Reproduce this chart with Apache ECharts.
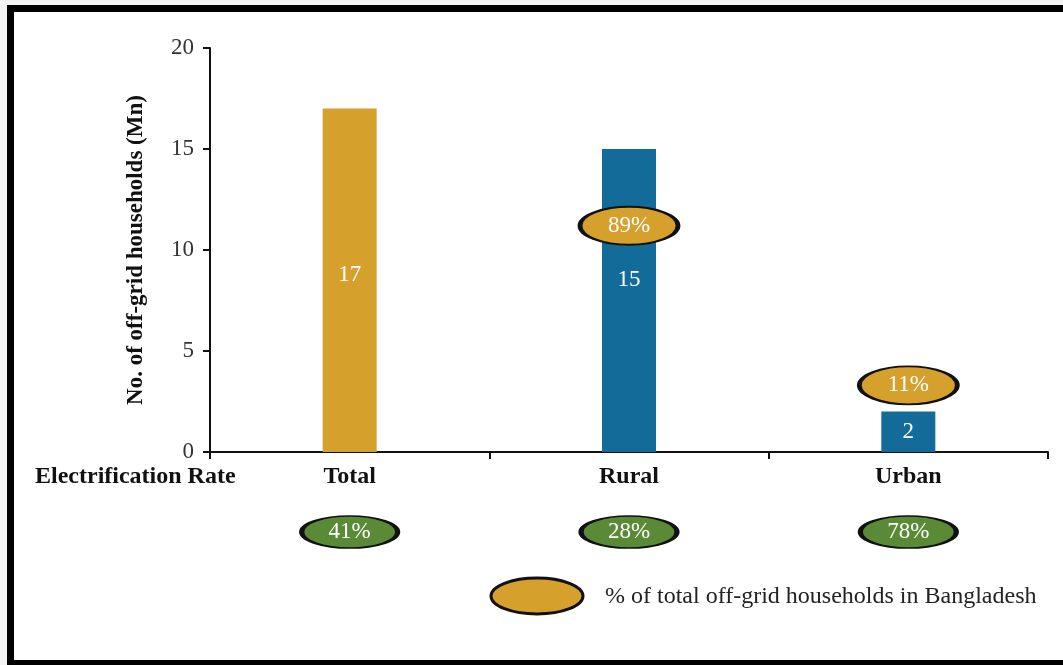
<!DOCTYPE html>
<html>
<head>
<meta charset="utf-8">
<script src="https://cdn.jsdelivr.net/npm/echarts@6/dist/echarts.min.js"></script>
<style>
  html, body { margin: 0; padding: 0; background: #f3f3f3; }
  #chart { width: 1063px; height: 665px; }
</style>
</head>
<body>
<div id="chart"></div>
<script>
// Off-grid households in Bangladesh, by area
const categories = ['Total', 'Rural', 'Urban'];
const households = [17, 15, 2];                 // million households
const offGridShare = [null, 89, 11];            // % of all off-grid households
const shareBadgeAt = [null, 11.2, 3.3];         // value height where each share badge sits
const electrificationRate = [41, 28, 78];       // %
const yTicks = [0, 5, 10, 15, 20];

const GOLD = '#d6a02c';
const BLUE = '#126b99';
const GREEN = '#5b8a37';
const SERIF = '"Liberation Serif", "DejaVu Serif", serif';
const legendName = '% of total off-grid households in Bangladesh';

const chart = echarts.init(document.getElementById('chart'), null, { renderer: 'canvas' });

const barData = households.map((v, i) => ({
  value: v,
  itemStyle: { color: i === 0 ? GOLD : BLUE },
  label: { offset: i === 1 ? [0, -21] : (i === 0 ? [0, -5] : [0, 0]) }
}));

const shareData = categories.map((c, i) =>
  offGridShare[i] == null ? null : { value: [c, shareBadgeAt[i]], share: offGridShare[i] }
).filter(Boolean);

const rateData = categories.map((c, i) => ({ value: [c, 0.5], rate: electrificationRate[i] }));

const option = {
  backgroundColor: '#ffffff',
  animation: false,
  textStyle: { fontFamily: SERIF },
  grid: [
    { left: 210, right: 15, top: 48, bottom: 213 },
    { left: 210, right: 15, top: 510, height: 44 }
  ],
  xAxis: [
    {
      gridIndex: 0,
      type: 'category',
      data: categories,
      axisLine: { lineStyle: { color: '#111', width: 2 } },
      axisTick: { show: true, length: 7, lineStyle: { color: '#111', width: 2 } },
      axisLabel: { color: '#111', fontSize: 24, fontWeight: 'bold', fontFamily: SERIF, margin: 13 }
    },
    { gridIndex: 1, type: 'category', data: categories, show: false }
  ],
  yAxis: [
    {
      gridIndex: 0,
      type: 'value',
      min: yTicks[0],
      max: yTicks[yTicks.length - 1],
      interval: 5,
      name: 'No. of off-grid households (Mn)',
      nameLocation: 'middle',
      nameGap: 62,
      nameTextStyle: { color: '#111', fontSize: 23, fontWeight: 'bold', fontFamily: SERIF },
      axisLine: { show: true, lineStyle: { color: '#111', width: 2 } },
      axisTick: { show: true, length: 7, lineStyle: { color: '#111', width: 2 } },
      axisLabel: { color: '#333', fontSize: 23, fontFamily: SERIF, margin: 16 },
      splitLine: { show: false }
    },
    { gridIndex: 1, type: 'value', min: 0, max: 1, show: false }
  ],
  series: [
    {
      name: 'Households',
      type: 'bar',
      xAxisIndex: 0,
      yAxisIndex: 0,
      barWidth: 54,
      data: barData,
      label: {
        show: true,
        position: 'inside',
        color: '#fff',
        fontSize: 23,
        fontFamily: SERIF
      }
    },
    {
      name: legendName,
      type: 'scatter',
      xAxisIndex: 0,
      yAxisIndex: 0,
      symbol: 'circle',
      symbolSize: [98, 38],
      itemStyle: { color: GOLD, borderColor: '#111', borderWidth: 3, opacity: 1 },
      data: shareData,
      label: {
        show: true,
        position: 'inside',
        color: '#fff',
        fontSize: 23,
        fontFamily: SERIF,
        formatter: p => p.data.share + '%'
      },
      z: 5
    },
    {
      name: 'Electrification Rate',
      type: 'scatter',
      xAxisIndex: 1,
      yAxisIndex: 1,
      symbol: 'circle',
      symbolSize: [96, 32],
      itemStyle: { color: GREEN, borderColor: '#111', borderWidth: 3, opacity: 1 },
      data: rateData,
      label: {
        show: true,
        position: 'inside',
        color: '#fff',
        fontSize: 23,
        fontFamily: SERIF,
        formatter: p => p.data.rate + '%'
      }
    }
  ],
  graphic: [
    // frame
    { type: 'rect', shape: { x: 7, y: 5, width: 1056, height: 7 }, style: { fill: '#000' }, silent: true },
    { type: 'rect', shape: { x: 7, y: 5, width: 7, height: 660 }, style: { fill: '#000' }, silent: true },
    { type: 'rect', shape: { x: 7, y: 660, width: 1056, height: 5 }, style: { fill: '#000' }, silent: true },
    { type: 'rect', shape: { x: 0, y: 0, width: 1063, height: 5 }, style: { fill: '#f3f3f3' }, silent: true },
    { type: 'rect', shape: { x: 0, y: 0, width: 7, height: 665 }, style: { fill: '#f3f3f3' }, silent: true },
    {
      type: 'text',
      left: 35,
      top: 465,
      style: {
        text: 'Electrification Rate',
        fill: '#111',
        font: 'bold 24px ' + SERIF
      }
    },
    // key for the gold share badges
    {
      type: 'ellipse',
      shape: { cx: 537, cy: 596, rx: 46, ry: 18 },
      style: { fill: GOLD, stroke: '#111', lineWidth: 3 },
      silent: true
    },
    {
      type: 'text',
      x: 605,
      y: 597,
      style: {
        text: legendName,
        fill: '#222',
        font: '24px ' + SERIF,
        textVerticalAlign: 'middle',
        verticalAlign: 'middle'
      },
      silent: true
    }
  ]
};

chart.setOption(option);
</script>
</body>
</html>
